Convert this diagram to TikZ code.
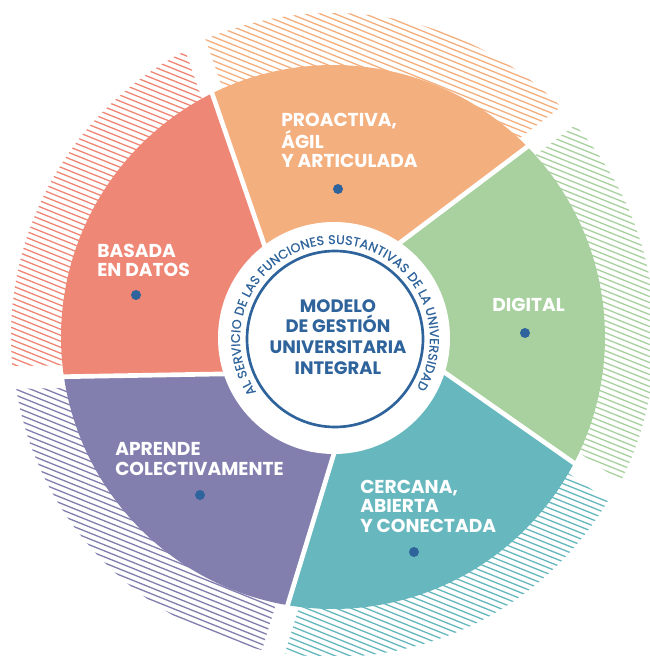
\documentclass[tikz,border=0pt]{standalone}
\usepackage{fontspec}
\setmainfont{Poppins}
\newfontfamily\arcfont{Poppins}[FakeBold=0.7]
\usetikzlibrary{decorations.text}

\definecolor{basadacol}{HTML}{EF8776}
\definecolor{proactivacol}{HTML}{F4AF7F}
\definecolor{digitalcol}{HTML}{A9D19F}
\definecolor{cercanacol}{HTML}{66B8BE}
\definecolor{aprendecol}{HTML}{827FAF}
\definecolor{modeloblue}{HTML}{2E639B}

\begin{document}
\begin{tikzpicture}[x=0.75pt, y=0.75pt,
    segtext/.style={anchor=base west, align=left, text=white, inner sep=0pt,
      font=\bfseries\fontsize{14}{14.5}\selectfont},
    segdot/.style={fill=modeloblue},
    hatchline/.style={line width=1}]
  \useasboundingbox (-333,-319) rectangle (316,337);
  \def\off{35}

  % hatched outer band behind each segment
  \foreach \a/\r/\c in {37/324/proactivacol, 109/322/basadacol, 181/321/aprendecol,
      253/320/cercanacol, 325/322/digitalcol} {
    \begin{scope}
      \clip ({\a+90}:\off) -- ({\a+asin(\off/\r)}:\r)
        arc[start angle={\a+asin(\off/\r)}, end angle={\a+72+asin(\off/\r)}, radius=\r]
        -- ({\a+162}:\off) -- cycle;
      \foreach \k in {-80,...,80}
        \draw[hatchline, \c] (-340,{\k*6+137}) -- (340,{\k*6-137});
    \end{scope}
  }
  % white gaps between the bands
  \foreach \a in {37,109,181,253,325}
    \draw[white, line width=17] ({\a+90}:\off) -- ++(\a:400);

  % coloured segments
  \foreach \a/\c in {37/proactivacol, 109/basadacol, 181/aprendecol,
      253/cercanacol, 325/digitalcol}
    \fill[\c] ({\a+90}:\off) -- ({\a+asin(\off/272)}:272)
      arc[start angle={\a+asin(\off/272)}, end angle={\a+72+asin(\off/272)}, radius=272]
      -- ({\a+162}:\off) -- cycle;
  \foreach \a in {37,109,181,253,325}
    \draw[white, line width=3.5] ({\a+90}:\off) -- ++(\a:290);

  % centre disc with ring and curved text
  \fill[white] (1,-1) circle (116);
  \draw[modeloblue, line width=2] (2,-2) circle (88);
  \path[decorate, decoration={text along path, text align={fit to path}, text color=modeloblue,
      text={|\arcfont\fontsize{9.5}{10}\selectfont|AL SERVICIO DE LAS FUNCIONES SUSTANTIVAS DE LA UNIVERSIDAD}}]
    (2,-2) ++(214:95) arc[start angle=214, end angle=-31, radius=95];
  \node[anchor=base, align=center, text=modeloblue, inner sep=0pt,
    font=\bfseries\fontsize{13.5}{15.4}\selectfont] (modelo) at (5,-37)
    {MODELO\\DE GESTIÓN\\UNIVERSITARIA\\INTEGRAL};

  % segment labels
  \node[segtext] (basada) at (-236,60) {BASADA\\EN DATOS};
  \node[segtext] (proactiva) at (-52,169) {PROACTIVA,\\ÁGIL\\Y ARTICULADA};
  \node[segtext] (digital) at (159,25) {DIGITAL};
  \node[segtext] (cercana) at (27,-195) {CERCANA,\\ABIERTA\\Y CONECTADA};
  \node[segtext] (aprende) at (-218,-138) {APRENDE\\COLECTIVAMENTE};

  \foreach \p in {(-197,42), (5,148), (192,4), (81,-215), (-133,-158)}
    \fill[segdot] \p circle (5);
\end{tikzpicture}
\end{document}
